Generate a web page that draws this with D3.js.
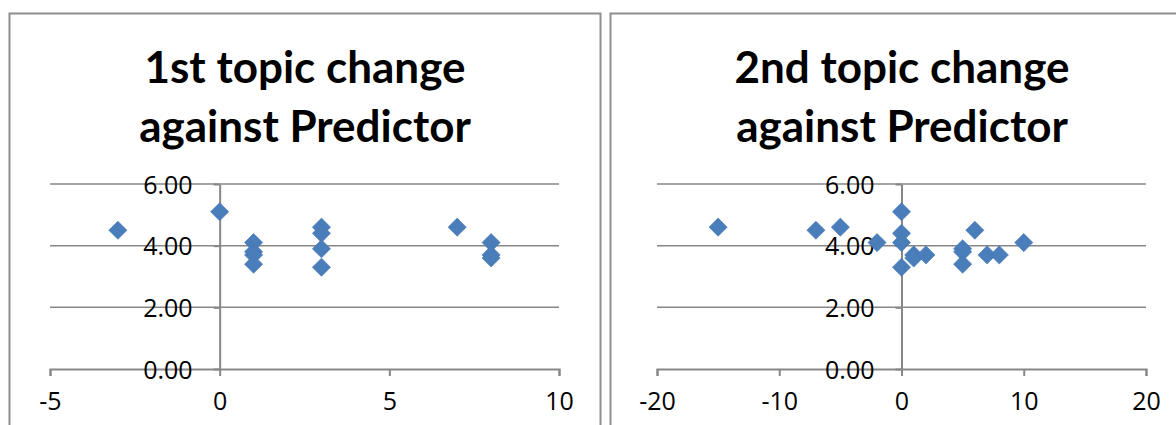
<!DOCTYPE html>
<html lang="en">
<head>
    <meta charset="UTF-8">
    <title>Topic change against Predictor</title>
    <script src="https://cdnjs.cloudflare.com/ajax/libs/d3/7.8.5/d3.min.js"></script>
    <style>
        body { margin: 0; background: #fff; }
        svg { display: block; }
    </style>
</head>
<body>
    <svg id="chart" width="1176" height="425"></svg>

    <script>
        // chart data
        let titles1 = ['1st topic change', 'against Predictor'];
        let titles2 = ['2nd topic change', 'against Predictor'];

        let predictor1 = [-3, 0, 1, 1, 1, 1, 3, 3, 3, 3, 7, 8, 8, 8];
        let change1 = [4.5, 5.1, 4.1, 3.8, 3.7, 3.4, 4.6, 4.4, 3.9, 3.3, 4.6, 4.1, 3.7, 3.6];

        let predictor2 = [-15, -7, -5, -2, 0, 0, 0, 0, 1, 1, 2, 5, 5, 5, 6, 7, 8, 10];
        let change2 = [4.6, 4.5, 4.6, 4.1, 5.1, 4.4, 4.1, 3.3, 3.7, 3.6, 3.7, 3.9, 3.8, 3.4, 4.5, 3.7, 3.7, 4.1];

        let xTicks1 = [-5, 0, 5, 10];
        let xTicks2 = [-20, -10, 0, 10, 20];
        let yTicks = [0, 2, 4, 6];

        let svg = d3.select('#chart');
        let grey = '#878787';
        let blue = '#4a7ebb';

        function drawPanel(opt) {
            let g = svg.append('g').attr('transform', `translate(${opt.left},0)`);

            //chart border
            g.append('rect')
                .attr('x', 0.5).attr('y', 13.5)
                .attr('width', 591).attr('height', 430)
                .attr('fill', 'none')
                .attr('stroke', '#8e8e8e')
                .attr('stroke-width', 2);

            //title
            g.append('text')
                .attr('x', opt.titleX)
                .attr('font-family', 'Lato, "Open Sans", sans-serif')
                .attr('font-weight', 'bold')
                .attr('font-size', 44)
                .attr('text-anchor', 'middle')
                .selectAll('tspan')
                .data(opt.title)
                .join('tspan')
                .attr('x', opt.titleX)
                .attr('y', (d, i) => 83 + i * 59)
                .text(d => d);

            let x = d3.scaleLinear().domain(opt.xDomain).range([opt.x0, opt.x1]);
            let y = d3.scaleLinear().domain([0, 6]).range([369, 184]);

            //horizontal gridlines
            g.append('g')
                .selectAll('line')
                .data(yTicks.filter(d => d > 0))
                .join('line')
                .attr('x1', x.range()[0]).attr('x2', x.range()[1])
                .attr('y1', d => y(d)).attr('y2', d => y(d))
                .attr('stroke', grey)
                .attr('stroke-width', 1.5);

            //x axis along y = 0, hyphen minus like the original
            let xAxis = g.append('g')
                .attr('transform', `translate(0,${y(0)})`)
                .call(d3.axisBottom(x).tickValues(opt.xTicks).tickSize(7).tickPadding(16)
                    .tickSizeOuter(7).tickFormat(d => String(d)));

            //y axis along x = 0
            let yAxis = g.append('g')
                .attr('transform', `translate(${x(0)},0)`)
                .call(d3.axisLeft(y).tickValues(yTicks).tickSize(6).tickPadding(21)
                    .tickSizeOuter(0).tickFormat(d3.format('.2f')));

            [xAxis, yAxis].forEach(function (a) {
                a.attr('font-family', '"Open Sans", Lato, sans-serif').attr('font-size', 25);
                a.selectAll('.tick text').attr('fill', '#000');
                a.select('.domain').attr('stroke', grey).attr('stroke-width', 2);
                a.selectAll('.tick line').attr('stroke', grey).attr('stroke-width', 2);
            });
            yAxis.selectAll('.tick text').attr('dy', '0.36em');

            //diamond markers
            let diamond = d3.symbol(d3.symbolSquare, 165);
            g.append('g')
                .selectAll('path')
                .data(opt.px.map((d, i) => [d, opt.py[i]]))
                .join('path')
                .attr('d', diamond)
                .attr('transform', d => `translate(${x(d[0])},${y(d[1])}) rotate(45)`)
                .attr('fill', blue)
                .attr('stroke', '#4779b5')
                .attr('stroke-width', 0.6);
        }

        drawPanel({
            left: 9, titleX: 296, title: titles1,
            xDomain: [-5, 10], x0: 41, x1: 550, xTicks: xTicks1,
            px: predictor1, py: change1
        });

        drawPanel({
            left: 610, titleX: 292, title: titles2,
            xDomain: [-20, 20], x0: 47, x1: 536, xTicks: xTicks2,
            px: predictor2, py: change2
        });
    </script>
</body>
</html>
